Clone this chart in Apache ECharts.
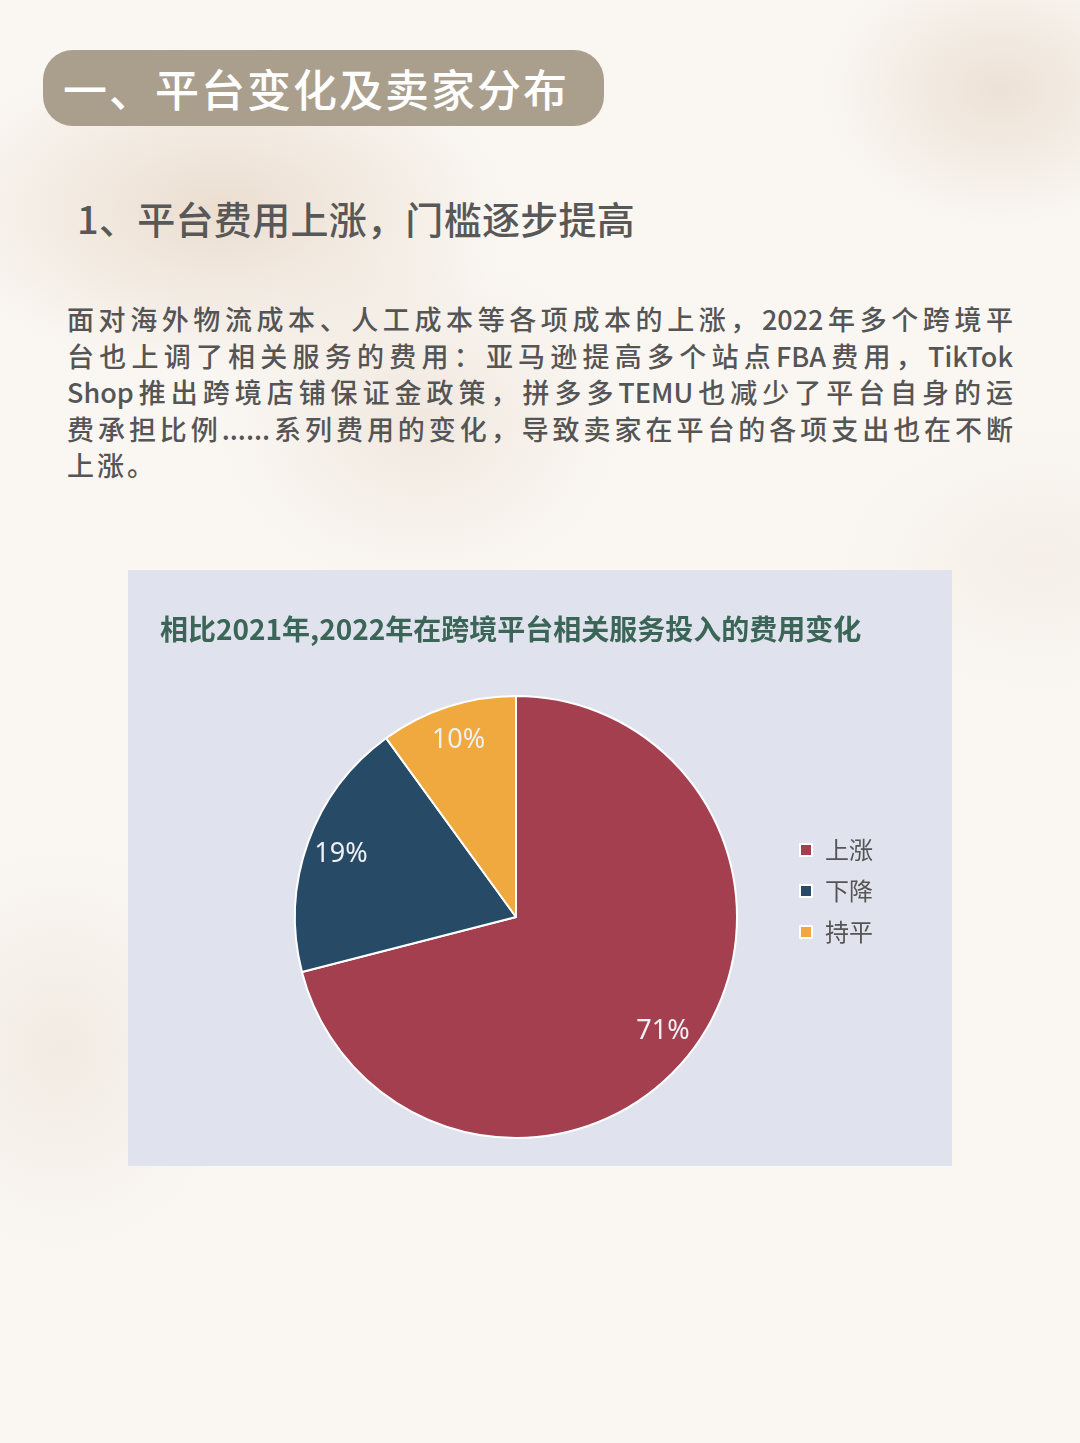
<!DOCTYPE html>
<html>
<head>
<meta charset="utf-8">
<script src="https://cdn.jsdelivr.net/npm/echarts@6/dist/echarts.min.js"></script>
<style>
  html, body { margin: 0; padding: 0; }
  body {
    width: 1080px; height: 1443px; position: relative; overflow: hidden;
    font-family: "Noto Sans CJK SC", "Noto Sans", sans-serif;
    background:
      radial-gradient(ellipse 260px 200px at 1000px 90px, rgba(226,208,190,0.55), rgba(226,208,190,0) 70%),
      radial-gradient(ellipse 420px 240px at 220px 210px, rgba(225,205,185,0.6), rgba(225,205,185,0) 70%),
      radial-gradient(ellipse 300px 250px at 420px 420px, rgba(232,218,204,0.5), rgba(232,218,204,0) 70%),
      radial-gradient(ellipse 260px 300px at 60px 1050px, rgba(232,220,208,0.45), rgba(232,220,208,0) 70%),
      radial-gradient(ellipse 300px 200px at 1040px 560px, rgba(236,226,214,0.4), rgba(236,226,214,0) 70%),
      #faf7f3;
  }
  .pill {
    position: absolute; left: 43px; top: 50px; width: 561px; height: 76px;
    background: #aa9e8d; border-radius: 30px;
    color: #fff; font-size: 44px; font-weight: 500; line-height: 76px;
    box-sizing: border-box; padding-left: 20px; letter-spacing: 2px;
  }
  .sub {
    position: absolute; left: 77px; top: 194px; font-size: 38px; font-weight: 500;
    color: #585858; letter-spacing: 0.3px; line-height: 48px; white-space: nowrap;
  }
  .para {
    position: absolute; left: 67px; top: 301px; width: 946px;
    font-size: 27px; font-weight: 500; color: #555; line-height: 36.6px;
  }
  .para div { text-align: justify; text-align-last: justify; white-space: nowrap; }
  .para div.last { text-align-last: left; letter-spacing: 3px; }
  #chart {
    position: absolute; left: 128px; top: 570px; width: 824px; height: 596px;
    background: #e0e3ee;
  }
</style>
</head>
<body>
<div class="pill">一、平台变化及卖家分布</div>
<div class="sub">1、平台费用上涨，门槛逐步提高</div>
<div class="para">
  <div>面对海外物流成本、人工成本等各项成本的上涨，2022年多个跨境平</div>
  <div>台也上调了相关服务的费用：亚马逊提高多个站点FBA费用，TikTok</div>
  <div>Shop推出跨境店铺保证金政策，拼多多TEMU也减少了平台自身的运</div>
  <div>费承担比例......系列费用的变化，导致卖家在平台的各项支出也在不断</div>
  <div class="last">上涨。</div>
</div>
<div id="chart"></div>
<script>
const chartTitle = '相比2021年,2022年在跨境平台相关服务投入的费用变化';
const categories = ['上涨', '下降', '持平'];
const values = [71, 19, 10];
const colors = ['#a43f4f', '#274b66', '#efa93f'];

const chart = echarts.init(document.getElementById('chart'));
const pieData = categories.map((c, i) => ({ name: c, value: values[i] }));
chart.setOption({
  animation: false,
  backgroundColor: '#e0e3ee',
  color: colors,
  title: {
    text: chartTitle, left: 27, top: 40,
    textStyle: { fontSize: 28, fontWeight: 'bold', color: '#3b6556', fontFamily: 'Noto Sans CJK SC' }
  },
  legend: {
    orient: 'vertical', left: 666, top: 263, itemGap: 17,
    icon: 'rect', itemWidth: 12, itemHeight: 12,
    data: categories,
    textStyle: { fontSize: 24, color: '#555', fontFamily: 'Noto Sans CJK SC', padding: [0, 0, 0, 8] }
  },
  series: [
    {
      type: 'pie', center: [388, 347], radius: [0, 221], startAngle: 90, clockwise: true,
      itemStyle: { borderColor: '#ffffff', borderWidth: 2 },
      label: { show: false }, labelLine: { show: false },
      emphasis: { disabled: true },
      data: pieData
    },
    {
      type: 'pie', center: [388, 347], radius: [145, 221], startAngle: 90, clockwise: true,
      silent: true, legendHoverLink: false,
      itemStyle: { color: 'rgba(0,0,0,0)', borderWidth: 0 },
      label: {
        show: true, position: 'inside', formatter: '{c}%',
        fontSize: 27, color: '#eef0f4', fontFamily: 'Noto Sans'
      },
      labelLine: { show: false },
      emphasis: { disabled: true },
      data: pieData
    }
  ]
});
</script>
</body>
</html>
